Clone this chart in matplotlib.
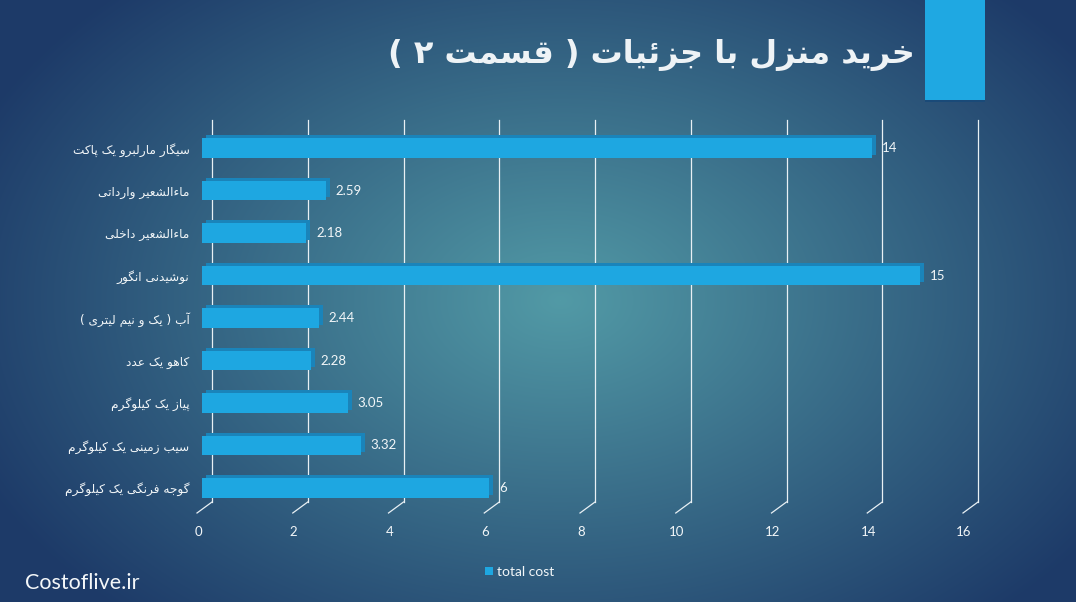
import numpy as np
import matplotlib
matplotlib.use("Agg")
import matplotlib.pyplot as plt
from matplotlib.patches import Rectangle
from matplotlib.lines import Line2D
from matplotlib.transforms import ScaledTranslation, blended_transform_factory

# ---------------- data ----------------
title_text = "خرید منزل با جزئیات ( قسمت ۲ )"
categories = [
    "سیگار مارلبرو یک پاکت",
    "ماءالشعیر وارداتی",
    "ماءالشعیر داخلی",
    "نوشیدنی انگور",
    "آب ( یک و نیم لیتری )",
    "کاهو یک عدد",
    "پیاز یک کیلوگرم",
    "سیب زمینی یک کیلوگرم",
    "گوجه فرنگی یک کیلوگرم",
]
values = [14, 2.59, 2.18, 15, 2.44, 2.28, 3.05, 3.32, 6]
x_ticks = [0, 2, 4, 6, 8, 10, 12, 14, 16]
series_name = "total cost"
watermark = "Costoflive.ir"

# ---------------- simple Arabic/Persian shaping ----------------
def _dual(b):
    return (b, b + 1, b + 2, b + 3)

def _right(b):
    return (b, b + 1, None, None)

FORMS = {
    'ا': _right(0xFE8D), 'آ': _right(0xFE81), 'ب': _dual(0xFE8F), 'پ': _dual(0xFB56),
    'ت': _dual(0xFE95), 'ث': _dual(0xFE99), 'ج': _dual(0xFE9D), 'چ': _dual(0xFB7A),
    'ح': _dual(0xFEA1), 'خ': _dual(0xFEA5), 'د': _right(0xFEA9), 'ذ': _right(0xFEAB),
    'ر': _right(0xFEAD), 'ز': _right(0xFEAF), 'ژ': _right(0xFB8A), 'س': _dual(0xFEB1),
    'ش': _dual(0xFEB5), 'ص': _dual(0xFEB9), 'ض': _dual(0xFEBD), 'ط': _dual(0xFEC1),
    'ظ': _dual(0xFEC5), 'ع': _dual(0xFEC9), 'غ': _dual(0xFECD), 'ف': _dual(0xFED1),
    'ق': _dual(0xFED5), 'ک': _dual(0xFB8E), 'گ': _dual(0xFB92), 'ل': _dual(0xFEDD),
    'م': _dual(0xFEE1), 'ن': _dual(0xFEE5), 'ه': _dual(0xFEE9), 'و': _right(0xFEED),
    'ی': _dual(0xFBFC), 'ئ': _dual(0xFE89), 'ء': (0xFE80, None, None, None),
}
LAM_ALEF = {'ا': (0xFEFB, 0xFEFC), 'آ': (0xFEF5, 0xFEF6)}
MIRROR = {'(': ')', ')': '(', '[': ']', ']': '['}


def _joins_left(c):
    return c in FORMS and FORMS[c][2] is not None


def _joins_right(c):
    return c in FORMS and FORMS[c][1] is not None


def shape(text):
    out = []
    i = 0
    n = len(text)
    while i < n:
        c = text[i]
        prev = text[i - 1] if i > 0 else None
        nxt = text[i + 1] if i + 1 < n else None
        if c not in FORMS:
            out.append(c)
            i += 1
            continue
        jp = prev is not None and _joins_left(prev) and _joins_right(c)
        if c == 'ل' and nxt in LAM_ALEF:
            iso, fin = LAM_ALEF[nxt]
            out.append(chr(fin if jp else iso))
            i += 2
            continue
        jn = nxt is not None and _joins_left(c) and _joins_right(nxt)
        f = FORMS[c]
        if jp and jn:
            code = f[3]
        elif jp:
            code = f[1]
        elif jn:
            code = f[2]
        else:
            code = f[0]
        out.append(chr(code))
        i += 1
    return "".join(MIRROR.get(ch, ch) for ch in reversed(out))


# ---------------- figure ----------------
W, H, DPI = 1076, 602, 100
fig = plt.figure(figsize=(W / DPI, H / DPI), dpi=DPI)

# background gradient
bg = fig.add_axes([0, 0, 1, 1], zorder=-10)
yy, xx = np.mgrid[0:H, 0:W]
cx, cy, rx, ry = 560.0, 300.0, 640.0, 430.0
t = np.sqrt(((xx - cx) / rx) ** 2 + ((yy - cy) / ry) ** 2)
t = np.clip(t, 0, 1) ** 1.0
c_in = np.array([0x52, 0x9a, 0xa6]) / 255.0
c_out = np.array([0x1d, 0x3a, 0x68]) / 255.0
img = c_in[None, None, :] * (1 - t[..., None]) + c_out[None, None, :] * t[..., None]
bg.imshow(img, aspect="auto", extent=[0, 1, 0, 1], origin="upper")
bg.set_axis_off()

# top-right accent box
fig.patches.append(Rectangle((925 / W, (H - 102) / H), 60 / W, 102 / H,
                             transform=fig.transFigure, facecolor="#1a4a78",
                             edgecolor="none", zorder=1))
fig.patches.append(Rectangle((925 / W, (H - 100) / H), 60 / W, 100 / H,
                             transform=fig.transFigure, facecolor="#1fa8e2",
                             edgecolor="none", zorder=2))

# title
fig.text(915 / W, (H - 55) / H, shape(title_text), ha="right", va="center",
         fontsize=23, fontweight="bold", color="#eef3f6", family=["DejaVu Sans"])

# chart axes
ax_top, ax_bot = 120, 502
ax = fig.add_axes([202 / W, (H - ax_bot) / H, 766 / W, (ax_bot - ax_top) / H])
ax.set_facecolor("none")
for s in ax.spines.values():
    s.set_visible(False)
ax.set_xlim(0, 16)
ax.set_ylim(8.33, -0.66)

ypos = np.arange(len(categories))
bar_h = 0.45
line_col = "#e8f0f4"

# gridlines on the back wall (3D offset) with slanted feet
btrans = blended_transform_factory(ax.transData, ax.transAxes)
grid_off = ScaledTranslation(10 / DPI, 0, fig.dpi_scale_trans)
foot_off = ScaledTranslation(-5 / DPI, -11 / DPI, fig.dpi_scale_trans)
for xt in x_ticks:
    ax.plot([xt, xt], [0, 1], transform=btrans + grid_off, color=line_col,
            lw=0.9, clip_on=False, zorder=1)
fig.canvas.draw()
for xt in x_ticks:
    a = (btrans + grid_off).transform((xt, 0))
    b = (btrans + foot_off).transform((xt, 0))
    fx = fig.transFigure.inverted().transform([a, b])
    fig.lines.append(Line2D(fx[:, 0], fx[:, 1], transform=fig.transFigure,
                            color=line_col, lw=0.9, zorder=3))

# bars (back face for depth, then front face)
back = ax.barh(ypos, values, height=bar_h, color="#1a84ba", zorder=2)
depth = ScaledTranslation(4 / DPI, 3 / DPI, fig.dpi_scale_trans)
for p in back.patches:
    p.set_transform(ax.transData + depth)
front = ax.barh(ypos, values, height=bar_h, color="#1ea7e1", zorder=3,
                label=series_name)

for y, v in zip(ypos, values):
    ax.annotate(f"{v:g}", xy=(v, y), xytext=(7, 0), textcoords="offset points",
                ha="left", va="center", color="#f2f6f8", fontsize=9.5,
                family=["Lato", "DejaVu Sans"], zorder=5)

ax.set_yticks(ypos)
ax.set_yticklabels([shape(c) for c in categories], family=["DejaVu Sans"],
                   fontsize=8.7, color="#f2f6f8")
ax.set_xticks(x_ticks)
ax.set_xticklabels([str(v) for v in x_ticks], family=["Lato", "DejaVu Sans"],
                   fontsize=9.5, color="#f2f6f8")
ax.tick_params(axis="y", length=0, pad=9)
ax.tick_params(axis="x", length=0, pad=17)
shift = ScaledTranslation(-4 / DPI, 0, fig.dpi_scale_trans)
for lbl in ax.get_xticklabels():
    lbl.set_transform(lbl.get_transform() + shift)

# legend
fig.legend(handles=[front], labels=[series_name], loc="center",
           bbox_to_anchor=(520 / W, (H - 572) / H), frameon=False,
           handlelength=0.55, handleheight=0.55, handletextpad=0.3,
           prop={"family": ["Lato", "DejaVu Sans"], "size": 10},
           labelcolor="#f2f6f8")

# watermark
fig.text(25 / W, (H - 583) / H, watermark, ha="left", va="center",
         fontsize=15.5, color="#f4f7f9", family=["Lato", "DejaVu Sans"])

fig.savefig("out.png", dpi=DPI)
